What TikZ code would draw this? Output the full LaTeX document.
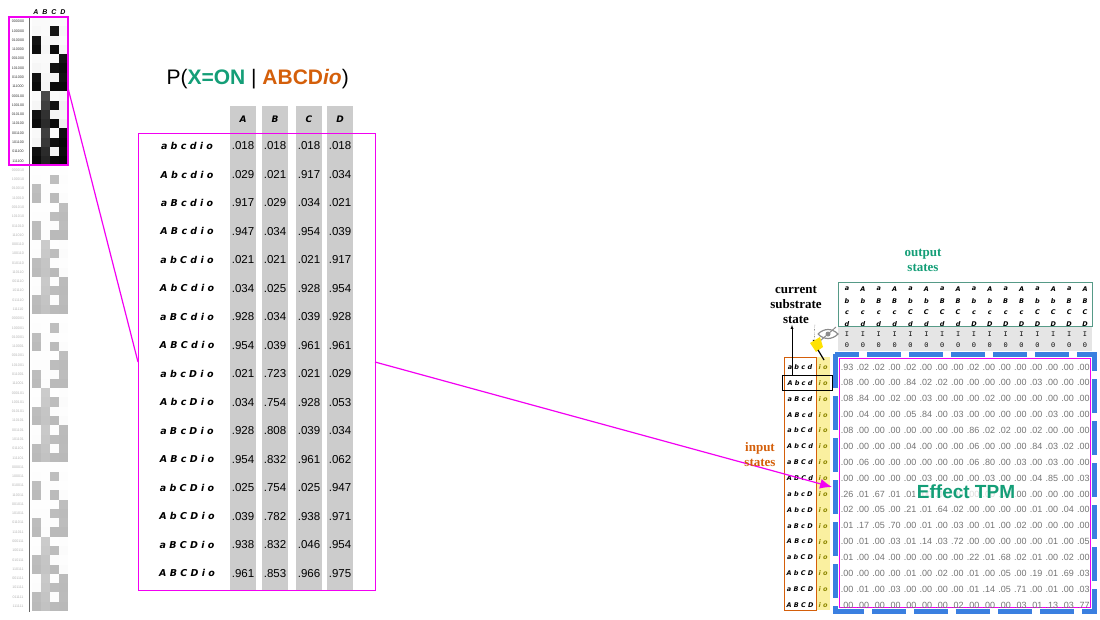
\documentclass[tikz,border=0pt]{standalone}
\usepackage{fontspec}
\setmainfont{Liberation Sans}
\newfontfamily\lblfont{DejaVu Sans}
\newfontfamily\serfont{Liberation Serif}
\newfontfamily\monofont{Liberation Mono}
\usetikzlibrary{positioning,arrows.meta}
\tikzset{>=latex}
\definecolor{mag}{HTML}{F200F2}
\definecolor{teal}{HTML}{149E77}
\definecolor{orng}{HTML}{D45F0A}
\definecolor{tpmblue}{HTML}{3A7FE0}
\definecolor{pale}{HTML}{FAF0A0}
\tikzset{
  rowlab/.style={font=\lblfont\bfseries\itshape\fontsize{9.5}{10}\selectfont},
  val/.style={font=\fontsize{11.5}{12}\selectfont},
  tpmval/.style={font=\fontsize{9}{10}\selectfont, text=black!55, inner sep=0pt},
  smalllab/.style={font=\lblfont\bfseries\itshape\fontsize{6.5}{7}\selectfont, inner sep=0pt},
  note/.style={font=\serfont\bfseries\fontsize{13}{15}\selectfont, align=center, inner sep=1pt},
}
\def\pA{{.018,.029,.917,.947,.021,.034,.928,.954,.021,.034,.928,.954,.025,.039,.938,.961}}
\def\pB{{.018,.021,.029,.034,.021,.025,.034,.039,.723,.754,.808,.832,.754,.782,.832,.853}}
\def\pC{{.018,.917,.034,.954,.021,.928,.039,.961,.021,.928,.039,.961,.025,.938,.046,.966}}
\def\pD{{.018,.034,.021,.039,.917,.954,.928,.961,.029,.053,.034,.062,.947,.971,.954,.975}}
\begin{document}
\begin{tikzpicture}[x=1pt,y=-1pt]
\useasboundingbox (0,0) rectangle (1100,619);
% left strip
\foreach \n in {0,...,63}{
  \pgfmathtruncatemacro\r{mod(\n,16)}
  \pgfmathsetmacro\op{\n<16 ? 1 : 0.28}
  \foreach \k in {0,...,5}{\pgfmathtruncatemacro\bit{mod(floor(\n/2^\k),2)}\expandafter\xdef\csname bb\k\endcsname{\bit}}
  \pgfmathsetmacro\y{17+9.28*\n}
  \node[font=\fontsize{3.6}{4}\selectfont, text=black!\ifnum\n<16 80\else 30\fi, inner sep=0pt]
    at (18,\y+4.6) {\csname bb0\endcsname\csname bb1\endcsname\csname bb2\endcsname\csname bb3\endcsname\csname bb4\endcsname\csname bb5\endcsname};
  \foreach \col/\xx in {\pA/31.5,\pB/40.5,\pC/49.5,\pD/58.5}{
    \pgfmathsetmacro\pv{\col[\r]*\op}
    \fill[black, fill opacity=\pv] (\xx,\y) rectangle +(9,9.28);
  }
}
\draw[black!60] (29.5,17) -- (29.5,612);
\foreach \c/\xx in {A/36,B/45,C/54,D/63}
  \node[font=\bfseries\itshape\fontsize{7}{8}\selectfont] at (\xx,12) {\c};
\draw[mag, line width=1.2pt] (9,17) rectangle (68,165);
\coordinate (strip) at (68,88);

% middle table
\node[anchor=west, font=\fontsize{21}{24}\selectfont] (title) at (163,79)
  {P(\textcolor{teal}{\bfseries X=ON} | \textcolor{orng}{\bfseries ABCD\textit{io}})};
\foreach \c/\xx in {A/243,B/275,C/309,D/340}{
  \fill[black!20] (\xx-13,106) rectangle (\xx+13,590);
  \node[font=\lblfont\bfseries\itshape\fontsize{9}{10}\selectfont] at (\xx,119) {\c};
}
\draw[mag, line width=1pt] (138,133) rectangle (375,590);
\coordinate (tabL) at (138,362);
\coordinate (tabR) at (375,362);
\foreach \lab [count=\i from 0] in {a b c d i o,A b c d i o,a B c d i o,A B c d i o,
  a b C d i o,A b C d i o,a B C d i o,A B C d i o,a b c D i o,A b c D i o,a B c D i o,
  A B c D i o,a b C D i o,A b C D i o,a B C D i o,A B C D i o}{
  \pgfmathsetmacro\y{146+28.47*\i}
  \node[rowlab] at (187,\y) {\lab};
  \foreach \col/\xx in {\pA/243,\pB/275,\pC/309,\pD/340}{
    \pgfmathsetmacro\pv{\col[\i]}
    \node[val] at (\xx,\y) {\pgfmathprintnumber[fixed,fixed zerofill,precision=3,skip 0.,assume math mode=true]{\pv}};
  }
}
\draw[mag, line width=1.2pt] (strip) -- (tabL);

% effect TPM
\draw[tpmblue, line width=5pt, dash pattern=on 34pt off 8pt] (835,354) rectangle (1094,611);
\draw[mag, line width=1pt] (839,358) rectangle (1090,607);
\fill[pale] (816,357) rectangle (830,610);
\draw[orng, line width=0.8pt] (784,357) rectangle (816,610);
\draw[teal!70!black!70, line width=1pt] (838,282) rectangle (1092,326);
\fill[black!10] (838,327) rectangle (1092,351);
\foreach \j in {0,...,15}{
  \pgfmathsetmacro\x{847+15.87*\j}
  \foreach \k/\lo/\up in {0/a/A,1/b/B,2/c/C,3/d/D}{
    \pgfmathtruncatemacro\bit{mod(floor(\j/2^\k),2)}
    \node[smalllab] at (\x,289+11.7*\k) {\ifnum\bit=1 \up\else\lo\fi};
  }
  \node[font=\monofont\fontsize{7}{8}\selectfont, inner sep=0pt] at (\x,334) {I};
  \node[font=\monofont\fontsize{7}{8}\selectfont, inner sep=0pt] at (\x,345) {0};
}
\foreach \row [count=\i from 0] in {
{.93,.02,.02,.00,.02,.00,.00,.00,.02,.00,.00,.00,.00,.00,.00,.00},
{.08,.00,.00,.00,.84,.02,.02,.00,.00,.00,.00,.00,.03,.00,.00,.00},
{.08,.84,.00,.02,.00,.03,.00,.00,.00,.02,.00,.00,.00,.00,.00,.00},
{.00,.04,.00,.00,.05,.84,.00,.03,.00,.00,.00,.00,.00,.03,.00,.00},
{.08,.00,.00,.00,.00,.00,.00,.00,.86,.02,.02,.00,.02,.00,.00,.00},
{.00,.00,.00,.00,.04,.00,.00,.00,.06,.00,.00,.00,.84,.03,.02,.00},
{.00,.06,.00,.00,.00,.00,.00,.00,.06,.80,.00,.03,.00,.03,.00,.00},
{.00,.00,.00,.00,.00,.03,.00,.00,.00,.03,.00,.00,.04,.85,.00,.03},
{.26,.01,.67,.01,.01,.00,.01,.00,.00,.00,.00,.00,.00,.00,.00,.00},
{.02,.00,.05,.00,.21,.01,.64,.02,.00,.00,.00,.00,.01,.00,.04,.00},
{.01,.17,.05,.70,.00,.01,.00,.03,.00,.01,.00,.02,.00,.00,.00,.00},
{.00,.01,.00,.03,.01,.14,.03,.72,.00,.00,.00,.00,.00,.01,.00,.05},
{.01,.00,.04,.00,.00,.00,.00,.00,.22,.01,.68,.02,.01,.00,.02,.00},
{.00,.00,.00,.00,.01,.00,.02,.00,.01,.00,.05,.00,.19,.01,.69,.03},
{.00,.01,.00,.03,.00,.00,.00,.00,.01,.14,.05,.71,.00,.01,.00,.03},
{.00,.00,.00,.00,.00,.00,.00,.02,.00,.00,.00,.03,.01,.13,.03,.77}}{
  \pgfmathsetmacro\y{367+15.87*\i}
  \foreach \v [count=\j from 0] in \row
    \node[tpmval] at (847+15.75*\j,\y) {\v};
}
\foreach \lab [count=\i from 0] in {a b c d,A b c d,a B c d,A B c d,a b C d,A b C d,a B C d,
  A B C d,a b c D,A b c D,a B c D,A B c D,a b C D,A b C D,a B C D,A B C D}{
  \pgfmathsetmacro\y{367+15.87*\i}
  \node[smalllab] at (800,\y) {\lab};
  \node[smalllab, text=olive] at (823,\y) {i o};
}
\draw[black, line width=1pt] (782,375.5) rectangle (832,390.5);
\node[font=\bfseries\fontsize{19}{21}\selectfont, text=teal, fill=white, fill opacity=0.75, text opacity=1, inner sep=2pt] (tpm) at (966,492) {Effect TPM};
\coordinate (tpmin) at (832,487);
\draw[mag, line width=1.2pt, -{Latex[length=12pt,width=10pt]}] (tabR) -- (tpmin);

% labels
\node[note, text=teal] (outlab) at (923,260) {output\\states};
\node[note] (curlab) at (796,305) {current\\substrate\\state};
\node[note, text=orng] (inlab) at (760,455) {input\\states};
\coordinate (cur) at (792,375);
\draw[->] (cur) -- (curlab.south -| cur);
\coordinate (pin) at (814,344);
\draw[->, densely dotted] ([xshift=-8pt]curlab.south east) -- (pin);
% eye and pin
\draw[black!45, line width=1.2pt] (818,334) .. controls (824,328) and (832,328) .. (838,334) .. controls (832,340) and (824,340) .. (818,334);
\fill[black!45] (828,334) circle (2.5);
\draw[black!45, line width=1pt] (820,341) -- (836,327);
\fill[yellow!85!orange] (810,343) -- (820,337) -- (823,347) -- (816,352) -- cycle;
\draw[black, line width=1.2pt] (818,350) -- (824,360);
\end{tikzpicture}
\end{document}
